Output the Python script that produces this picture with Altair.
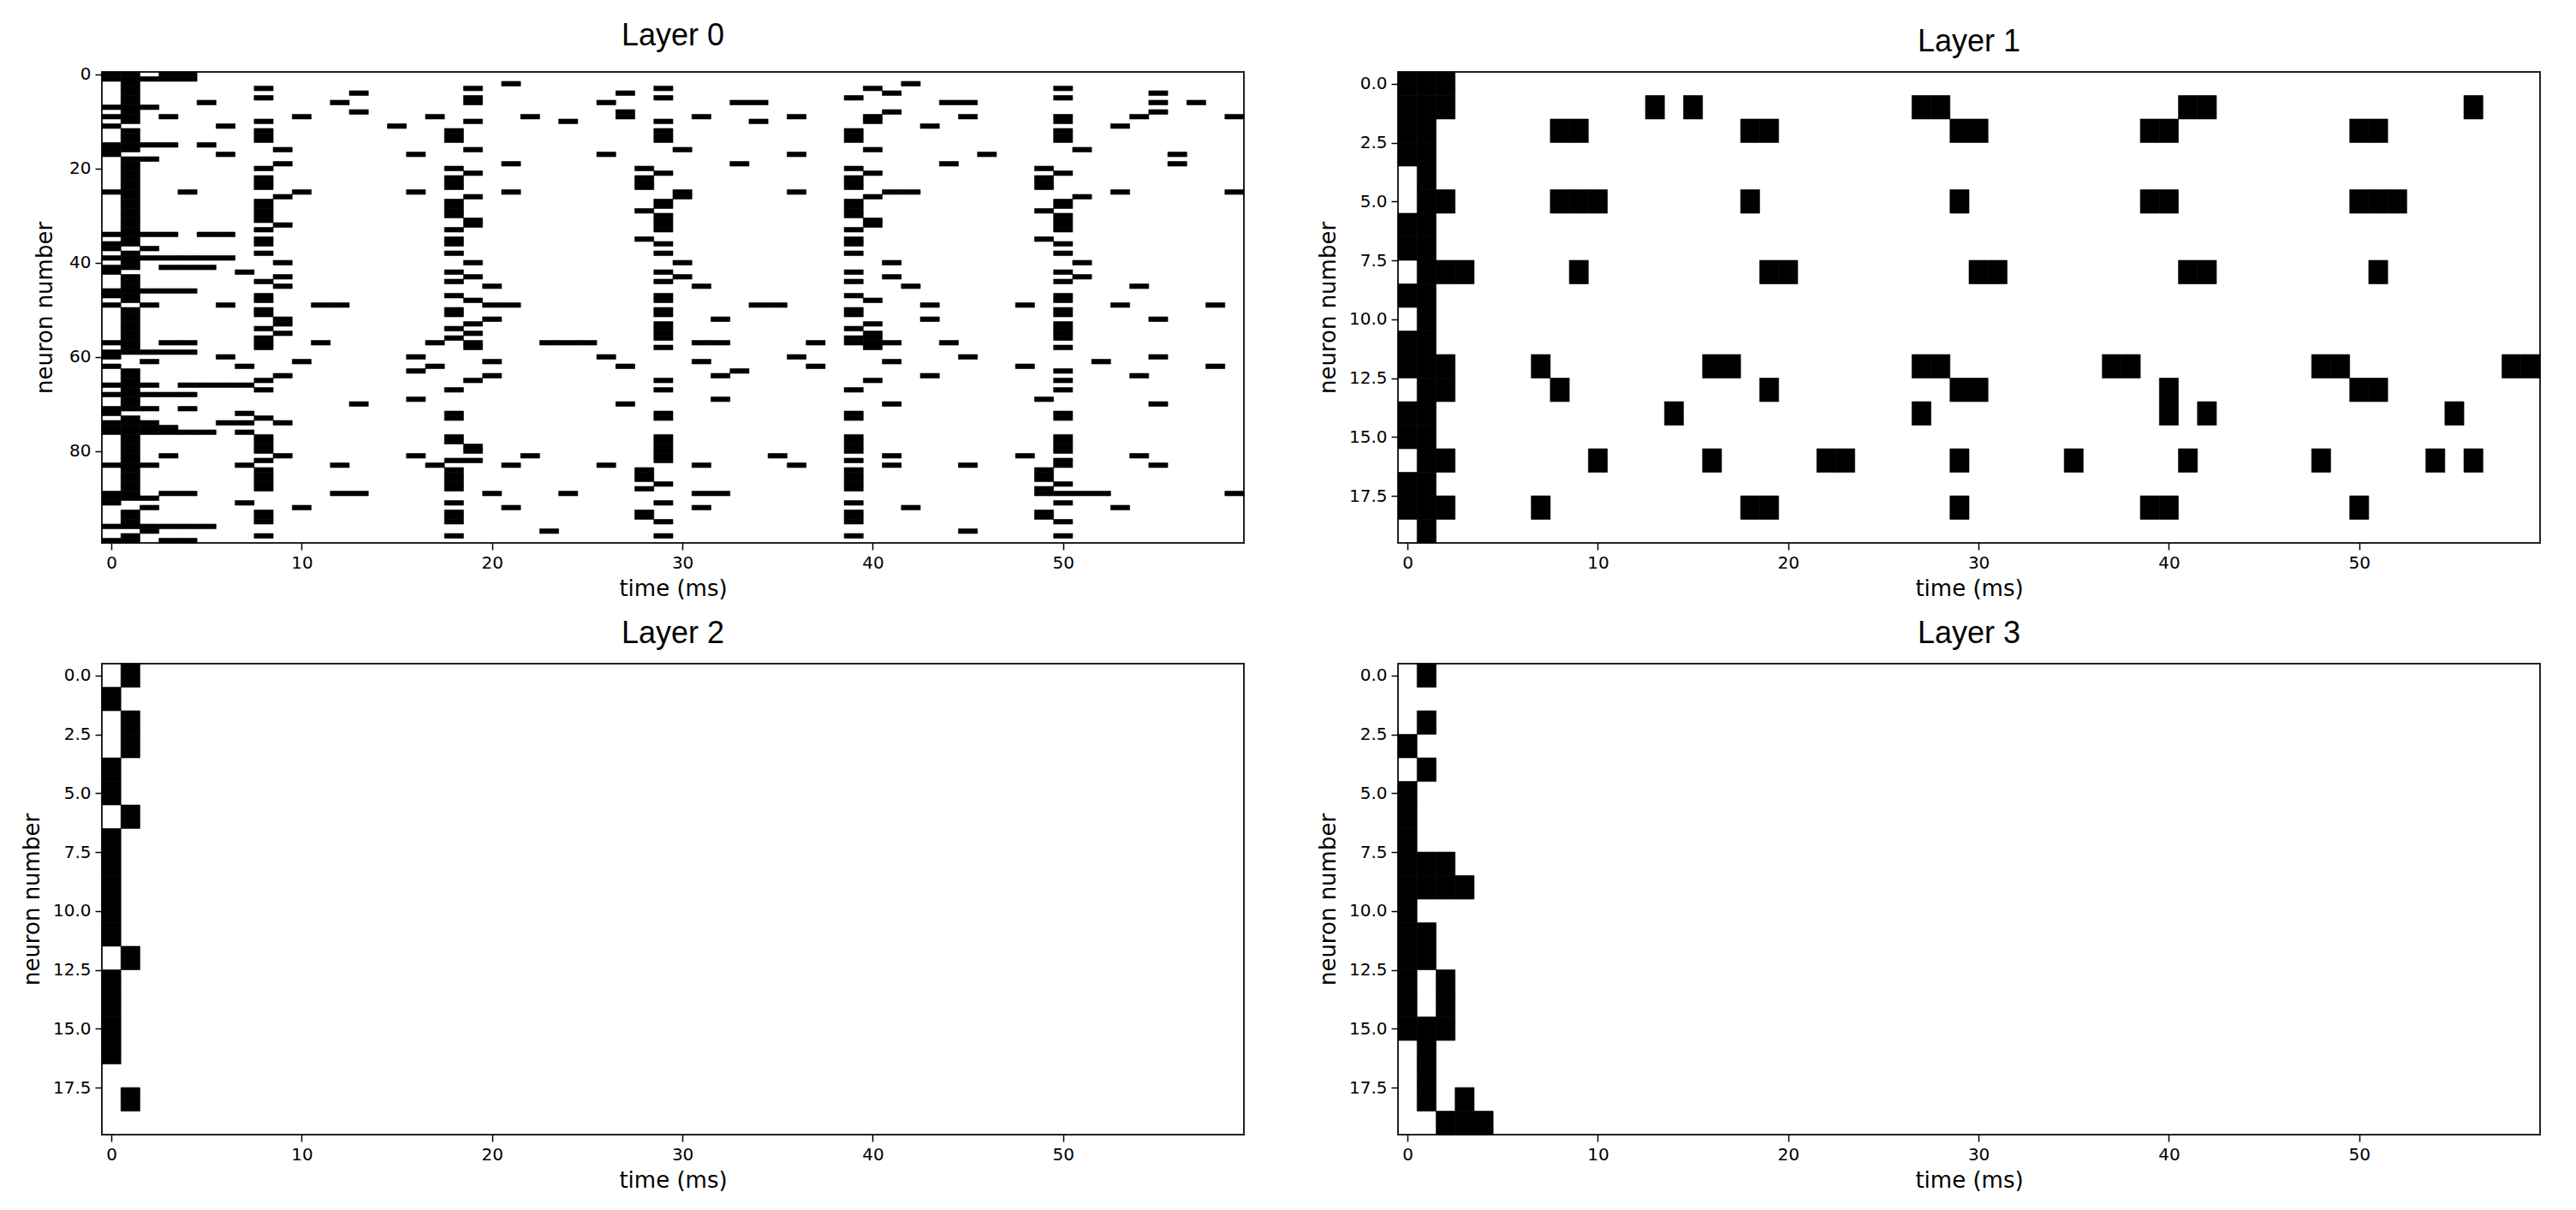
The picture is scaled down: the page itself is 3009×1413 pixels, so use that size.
import altair as alt
import pandas as pd

# ---------------- data: spike times (ms) for each neuron ----------------
layer0_spikes = [
    [0, 1, 3, 4], [0, 1, 2, 3, 4], [1, 21, 42], [1, 8, 19, 29, 40, 50], [1, 13, 27, 41, 55],
    [1, 8, 19, 29, 39, 50], [1, 5, 12, 19, 26, 33, 34, 44, 45, 55, 57], [0, 1, 2],
    [1, 13, 27, 41, 55], [0, 1, 3, 10, 17, 22, 27, 31, 36, 40, 45, 50, 54, 59],
    [1, 8, 19, 24, 29, 34, 40, 50], [0, 6, 15, 43, 53], [1, 8, 18, 29, 39, 50],
    [1, 8, 18, 29, 39, 50], [1, 8, 18, 29, 39, 50], [0, 1, 2, 3, 5], [0, 1, 9, 19, 30, 40, 51],
    [0, 6, 16, 26, 36, 46, 56], [1, 2], [1, 9, 21, 33, 44, 56], [1, 8, 18, 28, 39, 49],
    [1, 19, 29, 40, 50], [1, 8, 18, 28, 39, 49], [1, 8, 18, 28, 39, 49], [1, 8, 18, 28, 39, 49],
    [0, 1, 4, 10, 16, 21, 30, 36, 41, 42, 53, 59], [1, 9, 19, 30, 40, 51], [1, 8, 18, 29, 39, 50],
    [1, 8, 18, 29, 39, 50], [1, 8, 18, 28, 39, 49], [1, 8, 18, 29, 39, 50], [1, 8, 19, 29, 40, 50],
    [1, 9, 19, 29, 40, 50], [1, 8, 18, 29, 39, 50], [0, 1, 2, 3, 5, 6], [1, 8, 18, 28, 39, 49],
    [0, 1, 8, 18, 29, 39, 50], [0, 2], [1, 8, 18, 29, 39, 50], [0, 1, 2, 3, 4, 5, 6],
    [1, 9, 19, 30, 41, 51], [0, 1, 3, 4, 5], [0, 7, 18, 29, 39, 50], [1, 9, 19, 30, 41, 51],
    [1, 8, 18, 29, 39, 50], [1, 9, 20, 31, 42, 54], [0, 1, 2, 3, 4], [0, 1, 8, 18, 29, 39, 50],
    [1, 8, 19, 29, 40, 50], [0, 2, 6, 11, 12, 20, 21, 34, 35, 43, 48, 53, 58],
    [1, 8, 18, 29, 39, 50], [1, 8, 18, 29, 39, 50], [1, 9, 20, 32, 43, 55], [1, 9, 19, 29, 40, 50],
    [1, 8, 18, 29, 39, 50], [1, 9, 19, 29, 40, 50], [1, 8, 18, 29, 39, 40, 50],
    [0, 1, 3, 4, 8, 11, 17, 19, 23, 24, 25, 31, 32, 37, 39, 40, 41, 44],
    [1, 8, 19, 29, 40, 50], [0, 1, 2, 3, 4], [0, 6, 16, 26, 36, 45, 55], [2, 10, 20, 31, 41, 52],
    [0, 7, 17, 27, 37, 48, 58], [1, 16, 33, 50], [1, 9, 20, 32, 43, 54], [1, 8, 19, 29, 40, 50],
    [0, 1, 2, 4, 5, 6, 7], [1, 8, 18, 29, 39, 50], [0, 1, 2, 3, 4], [1, 16, 32, 49],
    [1, 13, 27, 41, 55], [0, 1, 2, 4], [0, 7, 18, 29, 39, 50], [1, 8, 18, 29, 39, 50],
    [0, 1, 2, 6, 7, 9], [0, 1, 2, 3], [0, 1, 2, 3, 4, 5, 7], [1, 8, 18, 29, 39, 50],
    [1, 8, 18, 29, 39, 50], [1, 8, 19, 29, 39, 50], [1, 8, 19, 29, 39, 50],
    [1, 3, 9, 16, 22, 29, 35, 41, 48, 54], [1, 8, 18, 19, 29, 39, 50],
    [0, 1, 2, 7, 12, 17, 21, 26, 31, 36, 41, 45, 50, 55], [1, 8, 18, 28, 39, 49],
    [1, 8, 18, 28, 39, 49], [1, 8, 18, 28, 39, 49], [1, 8, 18, 29, 39, 50], [1, 8, 18, 28, 39, 49],
    [0, 1, 3, 4, 12, 13, 20, 24, 31, 32, 49, 50, 51, 52, 59], [0, 1, 2], [0, 7, 18, 29, 39, 50],
    [2, 10, 21, 31, 42, 53], [1, 8, 18, 28, 39, 49], [1, 8, 18, 28, 39, 49], [1, 8, 18, 29, 39, 50],
    [0, 1, 2, 3, 4, 5], [2, 23, 45], [1, 8, 18, 29, 39, 50], [0, 1, 3, 4],
]

layer1_spikes = [
    [0, 1, 2], [0, 1, 2, 13, 15, 27, 28, 41, 42, 56], [0, 1, 8, 9, 18, 19, 29, 30, 39, 40, 50, 51],
    [0, 1], [1], [1, 2, 8, 9, 10, 18, 29, 39, 40, 50, 51, 52], [0, 1], [0, 1],
    [1, 2, 3, 9, 19, 20, 30, 31, 41, 42, 51], [0, 1], [1], [0, 1],
    [0, 1, 2, 7, 16, 17, 27, 28, 37, 38, 48, 49, 58, 59], [1, 2, 8, 19, 29, 30, 40, 50, 51],
    [0, 1, 14, 27, 40, 42, 55], [0, 1], [1, 2, 10, 16, 22, 23, 29, 35, 41, 48, 54, 56], [0, 1],
    [0, 1, 2, 7, 18, 19, 29, 39, 40, 50], [1],
]

layer2_spikes = [
    [1], [0], [1], [1], [0], [0], [1], [0], [0], [0],
    [0], [0], [1], [0], [0], [0], [0], [], [1], [],
]

layer3_spikes = [
    [1], [], [1], [0], [1], [0], [0], [0], [0, 1, 2], [0, 1, 2, 3],
    [0], [0, 1], [0, 1], [0, 2], [0, 2], [0, 1, 2], [1], [1], [1, 3], [2, 3, 4],
]

titles = ["Layer 0", "Layer 1", "Layer 2", "Layer 3"]
time_ticks = [0, 10, 20, 30, 40, 50]
n_steps = 60
ticks_100 = [0, 20, 40, 60, 80]
ticks_20 = [0.0, 2.5, 5.0, 7.5, 10.0, 12.5, 15.0, 17.5]

PW, PH = 1334, 550


def to_df(rows):
    return pd.DataFrame(
        [{"neuron": i, "t": t} for i, r in enumerate(rows) for t in r]
    )


def panel(rows, title, yticks, yfmt, ytitle_pad):
    n = len(rows)
    return (
        alt.Chart(to_df(rows))
        .transform_calculate(
            x0="datum.t - 0.5",
            x1="datum.t + 0.5",
            y0="datum.neuron - 0.5",
            y1="datum.neuron + 0.5",
        )
        .mark_rect(color="black", stroke="black", strokeWidth=0.6)
        .encode(
            x=alt.X(
                "x0:Q",
                scale=alt.Scale(domain=[-0.5, n_steps - 0.5], nice=False, zero=False),
                axis=alt.Axis(values=time_ticks, title="time (ms)", format="d"),
            ),
            x2="x1:Q",
            y=alt.Y(
                "y0:Q",
                scale=alt.Scale(domain=[-0.5, n - 0.5], reverse=True, nice=False, zero=False),
                axis=alt.Axis(values=yticks, title="neuron number", format=yfmt,
                              titlePadding=ytitle_pad),
            ),
            y2="y1:Q",
        )
        .properties(width=PW, height=PH, title=title)
    )


p0 = panel(layer0_spikes, titles[0], ticks_100, "d", 15)
p1 = panel(layer1_spikes, titles[1], ticks_20, ".1f", 11)
p2 = panel(layer2_spikes, titles[2], ticks_20, ".1f", 11)
p3 = panel(layer3_spikes, titles[3], ticks_20, ".1f", 11)

chart = (
    alt.concat(p0, p1, p2, p3, columns=2, spacing={"row": 19, "column": 82})
    .properties(padding={"left": 15, "top": 14, "right": 5, "bottom": 5})
    .configure_view(stroke="#222222", strokeWidth=2)
    .configure_axis(
        domain=False,
        grid=False,
        labelFont="DejaVu Sans",
        labelFontSize=20,
        labelColor="black",
        labelPadding=5,
        tickColor="black",
        tickWidth=1.5,
        tickSize=8,
        titleFont="DejaVu Sans",
        titleFontSize=26,
        titleFontWeight="normal",
        titleColor="black",
        titlePadding=7,
    )
    .configure_title(font="Liberation Sans", fontSize=36, fontWeight="normal",
                     color="black", offset=16, anchor="middle")
)

chart.save("out.html", embed_options={"renderer": "svg", "actions": False})
